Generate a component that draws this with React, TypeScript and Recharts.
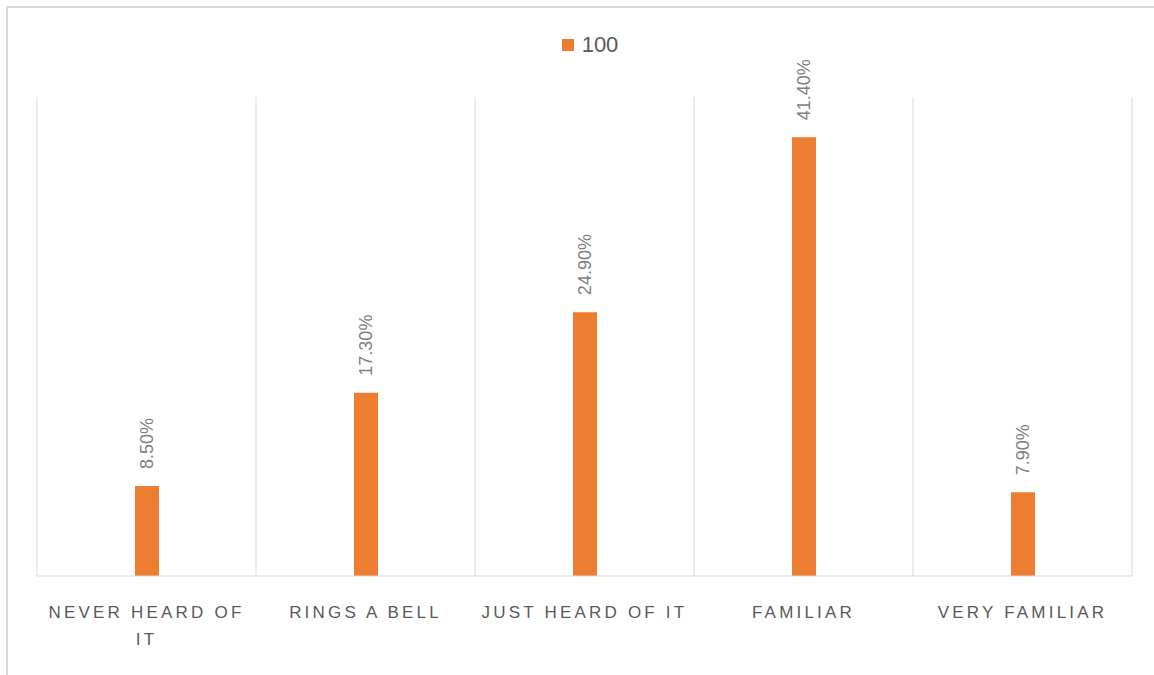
import { BarChart, Bar, XAxis, YAxis, CartesianGrid, Legend, LabelList } from "recharts"

const categories = ["NEVER HEARD OF IT", "RINGS A BELL", "JUST HEARD OF IT", "FAMILIAR", "VERY FAMILIAR"]
const values = [8.5, 17.3, 24.9, 41.4, 7.9]
const seriesName = "100"

const data = categories.map((name, i) => ({ name, value: values[i] }))

const ORANGE = "#ed7d31"
const GRID = "#d9d9d9"

function wrapWords(text: string, maxChars: number) {
  const lines: string[] = []
  let cur = ""
  for (const w of text.split(" ")) {
    const next = cur ? cur + " " + w : w
    if (next.length > maxChars && cur) {
      lines.push(cur)
      cur = w
    } else {
      cur = next
    }
  }
  if (cur) lines.push(cur)
  return lines
}

function CategoryTick(props: any) {
  const { x, y, payload } = props
  const lines = wrapWords(String(payload.value), 16)
  return (
    <text
      x={x}
      y={y + 34}
      textAnchor="middle"
      fill="#595959"
      fontFamily="'Liberation Sans', Arial, sans-serif"
      fontSize={17}
      letterSpacing={3.2}
    >
      {lines.map((l, i) => (
        <tspan key={i} x={x} dy={i === 0 ? 0 : 27}>
          {l}
        </tspan>
      ))}
    </text>
  )
}

function ValueLabel(props: any) {
  const { x, y, width, value } = props
  const cx = x + width / 2
  const cy = y - 17
  return (
    <text
      x={cx}
      y={cy}
      transform={`rotate(-90, ${cx}, ${cy})`}
      textAnchor="start"
      dominantBaseline="central"
      fill="#7f7f7f"
      fontFamily="'Liberation Sans', Arial, sans-serif"
      fontSize={18}
    >
      {Number(value).toFixed(2)}%
    </text>
  )
}

function LegendBox() {
  return (
    <div
      style={{
        display: "flex",
        justifyContent: "center",
        alignItems: "center",
        paddingLeft: 26,
        fontFamily: "'Liberation Sans', Arial, sans-serif",
        fontSize: 22,
        color: "#595959",
      }}
    >
      <span style={{ display: "inline-block", width: 12, height: 12, background: ORANGE, marginRight: 8 }} />
      <span>{seriesName}</span>
    </div>
  )
}

export default function App() {
  return (
    <div style={{ position: "absolute", left: 0, top: 0, width: 1154, height: 675, background: "#fff" }}>
      <div
        style={{
          position: "absolute",
          left: 6,
          top: 6,
          width: 1148,
          height: 669,
          borderLeft: `2px solid ${GRID}`,
          borderTop: `2px solid ${GRID}`,
          boxSizing: "border-box",
        }}
      />
      <div style={{ position: "absolute", left: 0, top: 0 }}>
        <BarChart
          width={1154}
          height={675}
          data={data}
          margin={{ top: 97, right: 22, bottom: 39, left: 37 }}
        >
          <CartesianGrid
            horizontal={false}
            stroke={GRID}
            verticalCoordinatesGenerator={({ offset }: any) =>
              categories.map((_, i) => offset.left + (i * offset.width) / categories.length).concat(offset.left + offset.width)
            }
          />
          <XAxis
            dataKey="name"
            axisLine={{ stroke: GRID }}
            tickLine={false}
            height={60}
            interval={0}
            tick={<CategoryTick />}
          />
          <YAxis hide domain={[0, 45.2]} />
          <Legend
            verticalAlign="middle"
            align="center"
            wrapperStyle={{ top: 32, left: 0, width: 1154 }}
            content={<LegendBox />}
          />
          <Bar dataKey="value" name={seriesName} fill={ORANGE} barSize={24} isAnimationActive={false}>
            <LabelList dataKey="value" content={<ValueLabel />} />
          </Bar>
        </BarChart>
      </div>
    </div>
  )
}
